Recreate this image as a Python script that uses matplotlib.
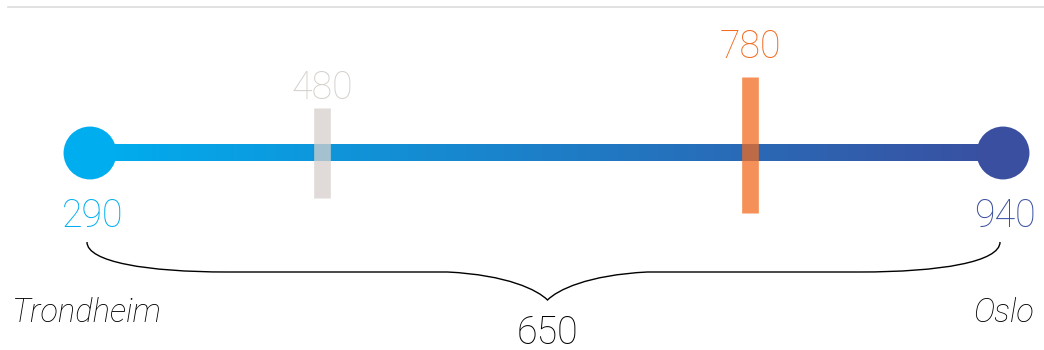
import matplotlib.pyplot as plt
import numpy as np
from matplotlib.path import Path
from matplotlib.patches import PathPatch
from matplotlib.colors import LinearSegmentedColormap

# data
cities = ['Trondheim', 'Oslo']
prices = [290, 940]
diff_label = '650'
mark_labels = ['480', '780']
mark_at = [455, 760]          # where the marks sit on the scale
mark_colors = ['#d6d0cb', '#f26b21']

left_col = '#00aeef'
right_col = '#3a4fa0'

plt.rcParams['font.family'] = ['Roboto', 'DejaVu Sans']

fig = plt.figure(figsize=(10.44, 3.5), dpi=100)
ax = fig.add_axes([0, 0, 1, 1])
px = 913 / (prices[1] - prices[0])   # pixels per unit
ax.set_xlim(prices[0] - 90 / px, prices[1] + 41 / px)
ax.set_ylim(350, 0)
ax.axis('off')

# thin rule at the top
ax.plot([prices[0] - 82 / px, prices[1] + 41 / px], [7, 7], color='#dcdcdc', lw=1.2)

# gradient line
cmap = LinearSegmentedColormap.from_list('g', [left_col, right_col])
grad = np.linspace(0, 1, 256).reshape(1, -1)
ax.imshow(grad, cmap=cmap, aspect='auto', extent=[prices[0], prices[1], 161.5, 144.5],
          interpolation='bilinear', zorder=2)

ax.scatter(prices, [153, 153], s=1450, color=[left_col, right_col], zorder=3, lw=0)

# value labels under dots
ax.text(prices[0] + 3 / px, 216, str(prices[0]), color=left_col, fontsize=27,
        ha='center', va='center', fontweight='light')
ax.text(prices[1] + 2 / px, 216, str(prices[1]), color=right_col, fontsize=27,
        ha='center', va='center', fontweight='light')

# marks
tops = [108, 77]
bottoms = [198, 213]
label_y = [88, 47]
for v, lab, c, t, b, ly in zip(mark_at, mark_labels, mark_colors, tops, bottoms, label_y):
    ax.plot([v, v], [t, b], color=c, lw=12, alpha=0.75, solid_capstyle='butt', zorder=4)
    ax.text(v, ly, lab, color=c, fontsize=27, ha='center', va='center',
            fontweight='light')

# brace
x0, x1 = prices[0] - 3 / px, prices[1] - 3 / px
xm = (x0 + x1) / 2 + 4 / px
verts = [(x0, 242), (x0, 262), (x0 + 60 / px, 272), (x0 + 140 / px, 272),
         (xm - 100 / px, 272), (xm - 40 / px, 275), (xm - 10 / px, 290),
         (xm, 300),
         (xm + 10 / px, 290), (xm + 40 / px, 275), (xm + 100 / px, 272),
         (x1 - 140 / px, 272), (x1 - 60 / px, 272), (x1, 262), (x1, 242)]
codes = [Path.MOVETO, Path.CURVE4, Path.CURVE4, Path.CURVE4,
         Path.LINETO, Path.CURVE4, Path.CURVE4, Path.CURVE4,
         Path.CURVE4, Path.CURVE4, Path.CURVE4,
         Path.LINETO, Path.CURVE4, Path.CURVE4, Path.CURVE4]
ax.add_patch(PathPatch(Path(verts, codes), fill=False, lw=1, color='black'))

ax.text(xm, 333, diff_label, fontsize=27, ha='center', va='center',
        fontweight='light')
ax.text(prices[0] - 78 / px, 313, cities[0], fontsize=23.5, ha='left', va='center',
        style='italic', fontweight='light')
ax.text(prices[1] + 31 / px, 313, cities[1], fontsize=23.5, ha='right', va='center',
        style='italic', fontweight='light')

fig.savefig('out.png', dpi=100)
